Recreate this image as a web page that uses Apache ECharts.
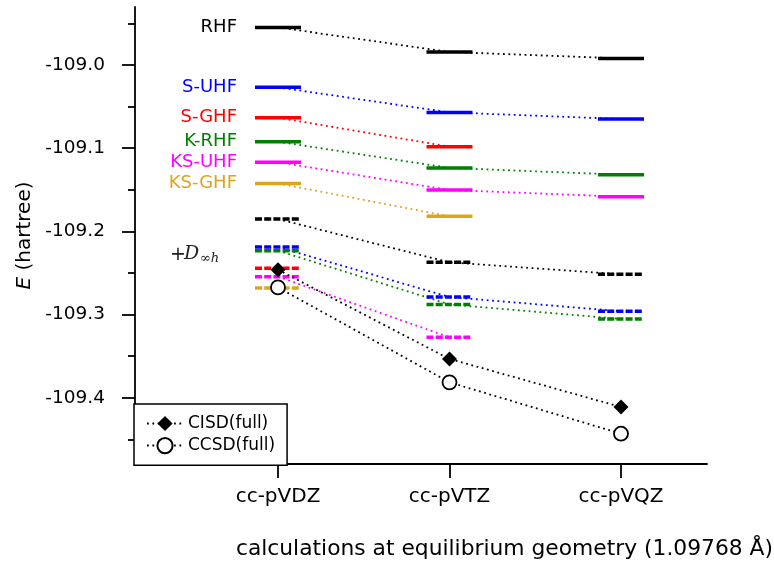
<!DOCTYPE html>
<html>
<head>
<meta charset="utf-8">
<script src="https://cdn.jsdelivr.net/npm/echarts@6/dist/echarts.min.js"></script>
<style>
  html, body { margin: 0; padding: 0; background: #fff; }
  #main { width: 774px; height: 564px; }
</style>
</head>
<body>
<div id="main"></div>
<script>
// basis sets on the x axis (positions 0, 1, 2)
const basis = ["cc-pVDZ", "cc-pVTZ", "cc-pVQZ"];
const yTicks = [-109.4, -109.3, -109.2, -109.1, -109.0];
const yMinorTicks = [-109.45, -109.35, -109.25, -109.15, -109.05, -108.95];

// energies (hartree) per basis, null = not computed
const rhf = [-108.9548, -108.9844, -108.9921];
const sUhf = [-109.0269, -109.0570, -109.0649];
const sGhf = [-109.0634, -109.0982, null];
const kRhf = [-109.0922, -109.1238, -109.1319];
const ksUhf = [-109.1169, -109.1503, -109.1583];
const ksGhf = [-109.1424, -109.1820, null];

// same methods + D_inf_h symmetry (dashed)
const rhfD = [-109.1852, -109.2373, -109.2516];
const sUhfD = [-109.2188, -109.2790, -109.2961];
const sGhfD = [-109.2445, null, null];
const kRhfD = [-109.2233, -109.2879, -109.3053];
const ksUhfD = [-109.2545, -109.3274, null];
const ksGhfD = [-109.2681, null, null];

const cisd = [-109.2461, -109.3534, -109.4112];
const ccsd = [-109.2674, -109.3815, -109.4433];

const methods = ["RHF", "S-UHF", "S-GHF", "K-RHF", "KS-UHF", "KS-GHF"];
const colors = ["#000000", "#0000ff", "#ff0000", "#008000", "#ff00ff", "#daa520"];
const solidVals = [rhf, sUhf, sGhf, kRhf, ksUhf, ksGhf];
const dashVals = [rhfD, sUhfD, sGhfD, kRhfD, ksUhfD, ksGhfD];

const FONT = "DejaVu Sans";
const dotted = [1.8, 3.6];

function pts(vals) {
  return vals.map((v, i) => [i, v]).filter((p) => p[1] != null);
}

function connector(name, vals, color) {
  return {
    name: name,
    type: "line",
    data: pts(vals),
    showSymbol: false,
    silent: true,
    z: 2,
    lineStyle: { color: color, width: 1.8, type: dotted },
  };
}

function levels(name, vals, color, dashed, label) {
  return {
    name: name,
    type: "custom",
    data: pts(vals),
    silent: true,
    z: 3,
    renderItem: function (params, api) {
      const p = api.coord([api.value(0), api.value(1)]);
      const children = [
        {
          type: "line",
          shape: { x1: p[0] - 23, y1: p[1], x2: p[0] + 23, y2: p[1] },
          style: { stroke: color, lineWidth: 3.5, lineDash: dashed ? [7, 2.2] : null },
        },
      ];
      if (label && params.dataIndex === 0) {
        children.push({
          type: "text",
          x: p[0] - 41,
          y: p[1],
          style: {
            text: label,
            fill: color,
            align: "right",
            verticalAlign: "middle",
            fontSize: 18,
            fontFamily: FONT,
          },
        });
      }
      return { type: "group", children: children };
    },
  };
}

const series = [];
for (let i = 0; i < methods.length; i++) {
  series.push(connector(methods[i] + " link", solidVals[i], colors[i]));
  series.push(connector(methods[i] + "+D link", dashVals[i], colors[i]));
}
for (let i = 0; i < methods.length; i++) {
  series.push(levels(methods[i], solidVals[i], colors[i], false, methods[i]));
  series.push(levels(methods[i] + "+D", dashVals[i], colors[i], true, null));
}
series.push({
  name: "CISD(full)",
  type: "line",
  data: pts(cisd),
  symbol: "diamond",
  symbolSize: 15,
  z: 5,
  itemStyle: { color: "#000" },
  lineStyle: { color: "#000", width: 1.8, type: dotted },
});
series.push({
  name: "CCSD(full)",
  type: "line",
  data: pts(ccsd),
  symbol: "circle",
  symbolSize: 14,
  z: 5,
  itemStyle: { color: "#fff", borderColor: "#000", borderWidth: 1.8 },
  lineStyle: { color: "#000", width: 1.8, type: dotted },
});

const yMin = -109.4797;
const yMax = -108.9303;
const axisLineStyle = { color: "#000", width: 1.8 };

const myEchart = echarts.init(document.getElementById("main"));
const option = {
  animation: false,
  backgroundColor: "#fff",
  grid: { left: 135, top: 7, width: 572, height: 457 },
  legend: {
    data: ["CISD(full)", "CCSD(full)"],
    orient: "vertical",
    left: 134,
    top: 404,
    padding: [11, 12, 11, 12],
    itemGap: 5,
    itemWidth: 36,
    itemHeight: 19,
    backgroundColor: "#fff",
    borderColor: "#000",
    borderWidth: 1.5,
    borderRadius: 0,
    textStyle: { fontFamily: FONT, fontSize: 17, color: "#000", lineHeight: 17 },
  },
  xAxis: {
    type: "value",
    min: -0.8338,
    max: 2.5015,
    axisLine: { onZero: false, lineStyle: axisLineStyle },
    axisTick: { customValues: [0, 1, 2], length: 14, lineStyle: axisLineStyle },
    axisLabel: {
      customValues: [0, 1, 2],
      formatter: (v) => basis[v],
      margin: 23,
      fontSize: 20,
      fontFamily: FONT,
      color: "#000",
    },
    splitLine: { show: false },
  },
  yAxis: [
    {
      type: "value",
      min: yMin,
      max: yMax,
      position: "left",
      axisLine: { show: true, onZero: false, lineStyle: axisLineStyle },
      axisTick: { show: true, customValues: yTicks, length: 13, lineStyle: axisLineStyle },
      axisLabel: {
        customValues: yTicks,
        formatter: (v) => v.toFixed(1),
        margin: 30,
        fontSize: 18.5,
        fontFamily: FONT,
        color: "#000",
      },
      splitLine: { show: false },
      name: "{i|E} (hartree)",
      nameLocation: "middle",
      nameGap: 96,
      nameTextStyle: {
        fontSize: 20,
        fontFamily: FONT,
        color: "#000",
        rich: { i: { fontSize: 20, fontFamily: FONT, fontStyle: "italic", color: "#000" } },
      },
    },
    {
      type: "value",
      min: yMin,
      max: yMax,
      position: "left",
      axisLine: { show: false, onZero: false },
      axisTick: { show: true, customValues: yMinorTicks, length: 7, lineStyle: axisLineStyle },
      axisLabel: { show: false },
      splitLine: { show: false },
    },
  ],
  graphic: [
    {
      type: "text",
      x: 773,
      y: 549,
      style: {
        text: "calculations at equilibrium geometry (1.09768 Å)",
        align: "right",
        verticalAlign: "middle",
        fontSize: 21.8,
        fontFamily: FONT,
        fill: "#000",
      },
    },
    {
      type: "text",
      x: 170,
      y: 255,
      style: { text: "+", verticalAlign: "middle", fontSize: 19, fontFamily: FONT, fill: "#222" },
    },
    {
      type: "text",
      x: 184,
      y: 254,
      style: {
        text: "D",
        verticalAlign: "middle",
        fontSize: 19,
        fontFamily: "DejaVu Serif",
        fontStyle: "italic",
        fill: "#222",
      },
    },
    {
      type: "text",
      x: 200,
      y: 259,
      style: {
        text: "∞h",
        verticalAlign: "middle",
        fontSize: 13,
        fontFamily: "DejaVu Serif",
        fontStyle: "italic",
        fill: "#222",
      },
    },
  ],
  series: series,
};
option && myEchart.setOption(option);
</script>
</body>
</html>
